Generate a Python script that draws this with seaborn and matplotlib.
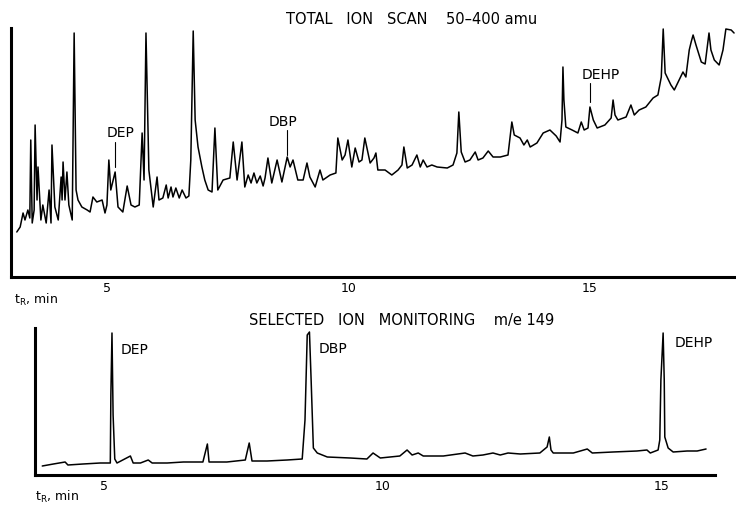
import matplotlib
matplotlib.use("Agg")
import pandas as pd
import matplotlib.pyplot as plt
import seaborn as sns

# --- total ion scan trace (retention time in min, relative intensity) ---
tic_time = [
    3.12, 3.19, 3.25, 3.29, 3.35, 3.39, 3.41, 3.44, 3.48, 3.50, 3.54, 3.56, 3.62, 3.66, 3.73,
    3.79, 3.83, 3.85, 3.91, 3.98, 4.04, 4.06, 4.08, 4.12, 4.16, 4.20, 4.27, 4.31, 4.35, 4.39,
    4.47, 4.58, 4.64, 4.70, 4.78, 4.89, 4.95, 4.99, 5.03, 5.07, 5.12, 5.16, 5.20, 5.22, 5.32,
    5.41, 5.49, 5.57, 5.66, 5.72, 5.76, 5.80, 5.86, 5.95, 6.03, 6.07, 6.15, 6.22, 6.26, 6.32,
    6.36, 6.42, 6.49, 6.55, 6.63, 6.69, 6.73, 6.78, 6.82, 6.88, 6.96, 7.02, 7.09, 7.17, 7.23,
    7.29, 7.40, 7.54, 7.61, 7.69, 7.79, 7.85, 7.92, 7.98, 8.04, 8.10, 8.17, 8.23, 8.27, 8.33,
    8.41, 8.52, 8.62, 8.73, 8.79, 8.85, 8.95, 9.06, 9.14, 9.20, 9.31, 9.41, 9.47, 9.62, 9.74,
    9.78, 9.87, 9.93, 9.99, 10.07, 10.14, 10.22, 10.28, 10.34, 10.45, 10.53, 10.57, 10.61, 10.76, 10.90,
    11.03, 11.11, 11.15, 11.22, 11.32, 11.42, 11.49, 11.55, 11.63, 11.73, 11.84, 12.05, 12.17, 12.25, 12.29,
    12.34, 12.42, 12.52, 12.63, 12.69, 12.79, 12.90, 13.00, 13.15, 13.31, 13.39, 13.44, 13.56, 13.64, 13.71,
    13.77, 13.91, 14.04, 14.18, 14.31, 14.39, 14.43, 14.45, 14.47, 14.51, 14.64, 14.76, 14.83, 14.89, 14.97,
    15.01, 15.08, 15.16, 15.32, 15.45, 15.49, 15.53, 15.59, 15.76, 15.86, 15.93, 16.03, 16.17, 16.32, 16.42,
    16.49, 16.53, 16.57, 16.69, 16.76, 16.86, 16.94, 17.00, 17.07, 17.11, 17.15, 17.21, 17.32, 17.40, 17.48,
    17.52, 17.59, 17.69, 17.77, 17.83, 17.94, 18.00,
]
tic_signal = [
    45, 50, 64, 57, 67, 59, 137, 54, 67, 152, 77, 110, 57, 72, 54,
    87, 54, 132, 70, 57, 100, 77, 115, 77, 105, 72, 57, 244, 87, 77,
    70, 67, 65, 80, 75, 77, 64, 72, 117, 87, 97, 105, 82, 70, 65,
    91, 72, 70, 72, 144, 97, 244, 107, 70, 100, 77, 79, 92, 79, 90,
    80, 89, 79, 87, 79, 81, 117, 246, 157, 130, 110, 97, 87, 85, 149,
    87, 97, 99, 135, 97, 135, 90, 102, 94, 104, 94, 101, 91, 99, 119,
    94, 117, 95, 120, 110, 117, 97, 97, 114, 100, 90, 107, 97, 102, 104,
    139, 117, 122, 137, 110, 129, 115, 117, 139, 114, 119, 124, 107, 107, 102,
    107, 112, 130, 109, 112, 122, 110, 117, 110, 112, 110, 109, 112, 124, 165,
    125, 115, 117, 125, 117, 119, 126, 120, 120, 122, 155, 142, 139, 132, 137,
    130, 134, 144, 147, 141, 135, 157, 210, 177, 150, 147, 144, 155, 147, 149,
    170, 157, 149, 152, 159, 177, 162, 157, 160, 172, 162, 167, 170, 179, 182,
    200, 248, 204, 192, 187, 197, 205, 200, 227, 235, 242, 232, 215, 213, 244,
    227, 217, 212, 227, 248, 247, 244,
]

# --- selected ion monitoring m/e 149 trace ---
sim_time = [
    3.89, 4.09, 4.30, 4.35, 4.62, 4.93, 5.11, 5.12, 5.14, 5.16, 5.19, 5.23, 5.47, 5.52, 5.65,
    5.79, 5.86, 6.13, 6.42, 6.77, 6.85, 6.88, 7.20, 7.53, 7.60, 7.65, 7.92, 8.28, 8.55, 8.60,
    8.64, 8.68, 8.71, 8.75, 8.82, 9.00, 9.41, 9.71, 9.82, 9.95, 10.30, 10.43, 10.52, 10.63, 10.72,
    11.08, 11.47, 11.61, 11.79, 11.97, 12.10, 12.24, 12.46, 12.81, 12.94, 12.98, 13.01, 13.05, 13.41, 13.66,
    13.75, 14.12, 14.55, 14.73, 14.79, 14.93, 14.96, 14.98, 15.02, 15.04, 15.05, 15.11, 15.20, 15.45, 15.63,
    15.79,
]
sim_signal = [
    9, 11, 13, 10, 11, 12, 12, 80, 142, 60, 16, 12, 19, 12, 12,
    15, 12, 12, 13, 13, 31, 13, 13, 15, 32, 14, 14, 15, 16, 55,
    140, 143, 95, 27, 22, 18, 17, 16, 22, 17, 19, 25, 20, 22, 19,
    19, 22, 19, 20, 22, 20, 22, 21, 22, 28, 38, 25, 22, 22, 26,
    22, 23, 24, 25, 22, 25, 35, 95, 142, 95, 38, 27, 23, 24, 24,
    26,
]

tic_ticks = [5, 10, 15]
sim_ticks = [5, 10, 15]
compounds = ["DEP", "DBP", "DEHP"]
tic_peak_time = [5.16, 8.73, 15.01]
tic_marker_lo = [110, 122, 175]
tic_marker_hi = [135, 147, 194]
tic_label_xy = [(5.28, 144), (8.64, 155), (15.24, 202)]
sim_label_xy = [(5.29, 125), (8.84, 126), (15.23, 132)]

sns.set_style("white")
plt.rcParams["font.family"] = ["DejaVu Sans"]
plt.rcParams["text.color"] = "black"
plt.rcParams["xtick.color"] = "black"
plt.rcParams["xtick.labelcolor"] = "black"

W, H = 736, 511
fig = plt.figure(figsize=(W / 100, H / 100), dpi=100)


def frac(x0, y0, x1, y1):
    # pixel box -> figure fraction rect
    return [x0 / W, 1 - y1 / H, (x1 - x0) / W, (y1 - y0) / H]


def style_axis(ax, ticks):
    for side in ["top", "right"]:
        ax.spines[side].set_visible(False)
    for side in ["left", "bottom"]:
        ax.spines[side].set_linewidth(2.2)
        ax.spines[side].set_color("black")
    ax.set_yticks([])
    ax.set_xticks(ticks)
    ax.set_xticklabels([str(t) for t in ticks], fontsize=9, color="black")
    ax.tick_params(axis="x", direction="inout", length=5, width=1, pad=1, colors="black")
    ax.set_xlabel("")
    ax.set_ylabel("")
    ax.set_facecolor("white")


# top panel: total ion scan
ax1 = fig.add_axes(frac(11, 28, 736, 277))
tic_df = pd.DataFrame({"time": tic_time, "signal": tic_signal})
sns.lineplot(data=tic_df, x="time", y="signal", ax=ax1, sort=False, estimator=None,
             color="black", linewidth=1.1)
ax1.set_xlim(3.0, 18.04)
ax1.set_ylim(0, 249)
style_axis(ax1, tic_ticks)
for name, t, lo, hi, (lx, ly) in zip(compounds, tic_peak_time, tic_marker_lo, tic_marker_hi, tic_label_xy):
    ax1.plot([t, t], [lo, hi], color="black", linewidth=0.8)
    ax1.text(lx, ly, name, ha="center", va="center", fontsize=10, color="black")

# bottom panel: selected ion monitoring
ax2 = fig.add_axes(frac(35, 328, 715, 475))
sim_df = pd.DataFrame({"time": sim_time, "signal": sim_signal})
sns.lineplot(data=sim_df, x="time", y="signal", ax=ax2, sort=False, estimator=None,
             color="black", linewidth=1.1)
ax2.set_xlim(3.76, 15.95)
ax2.set_ylim(0, 147)
style_axis(ax2, sim_ticks)
for name, (lx, ly) in zip(compounds, sim_label_xy):
    ax2.text(lx, ly, name, ha="left", va="center", fontsize=10, color="black")

fig.text(412 / W, 1 - 20 / H, "TOTAL   ION   SCAN    50\u2013400 amu", ha="center", va="center",
         fontsize=10.5, color="black")
fig.text(402 / W, 1 - 320 / H, "SELECTED   ION   MONITORING    m/e 149", ha="center", va="center",
         fontsize=10.5, color="black")
fig.text(14 / W, 1 - 300 / H, r"$\mathregular{t_R}$, min", ha="left", va="center", fontsize=9, color="black")
fig.text(35 / W, 1 - 497 / H, r"$\mathregular{t_R}$, min", ha="left", va="center", fontsize=9, color="black")

fig.savefig("out.png", dpi=100, facecolor="white")
